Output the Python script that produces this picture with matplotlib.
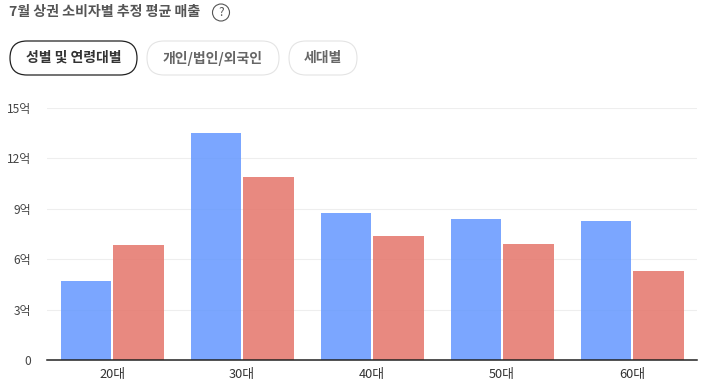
import matplotlib
matplotlib.use("Agg")
import matplotlib.pyplot as plt
from matplotlib.patches import FancyBboxPatch, Circle

plt.rcParams['font.family'] = ['Noto Sans CJK KR', 'DejaVu Sans']

ages = ["20대", "30대", "40대", "50대", "60대"]
blue_vals = [4.7, 13.5, 8.75, 8.4, 8.3]
red_vals = [6.85, 10.9, 7.4, 6.9, 5.3]
y_ticks = [0, 3, 6, 9, 12, 15]
y_labels = ["0", "3억", "6억", "9억", "12억", "15억"]
title = "7월 상권 소비자별 추정 평균 매출"
buttons = ["성별 및 연령대별", "개인/법인/외국인", "세대별"]

W, H = 701, 389
fig = plt.figure(figsize=(W / 100, H / 100), dpi=100)

# overlay in pixel coords for the header stuff
bg = fig.add_axes([0, 0, 1, 1])
bg.set_xlim(0, W)
bg.set_ylim(H, 0)
bg.axis("off")

# chart
ax = fig.add_axes([47 / W, 1 - 360 / H, 650 / W, 252 / H])
x = list(range(len(ages)))
ax.bar([i - 0.2 for i in x], blue_vals, width=0.385, color="#6497ff", alpha=0.85, zorder=2)
ax.bar([i + 0.204 for i in x], red_vals, width=0.385, color="#e5756a", alpha=0.85, zorder=2)
ax.set_xlim(-0.5, 4.5)
ax.set_ylim(0, 15)
ax.set_xticks(x)
ax.set_xticklabels(ages, fontsize=9.2, color="#333333")
ax.set_yticks(y_ticks)
ax.set_yticklabels(y_labels, fontsize=8.6, color="#444444")
ax.tick_params(length=0)
ax.tick_params(axis="x", pad=6)
ax.tick_params(axis="y", pad=11.5)
ax.grid(axis="y", color="#eeeeee", lw=0.8, zorder=0)
for s in ["top", "right", "left"]:
    ax.spines[s].set_visible(False)
ax.spines["bottom"].set_color("#222222")
ax.spines["bottom"].set_linewidth(1.1)
ax.patch.set_alpha(0)

# header
bg.text(9, 12, title, fontsize=10.1, fontweight="bold", color="#555555", va="center")
bg.add_patch(Circle((221, 12.5), 8.5, fc="white", ec="#555555", lw=0.8))
bg.text(221, 12.5, "?", fontsize=8.5, color="#555555", ha="center", va="center")


def pill(x0, x1, label, active):
    y0, y1 = 41, 75
    r = 17
    bg.add_patch(FancyBboxPatch((x0 + r, y0 + r), x1 - x0 - 2 * r, y1 - y0 - 2 * r,
                                boxstyle=f"round,pad={r}", fc="white",
                                ec="#222222" if active else "#e4e4e4", lw=0.9 if active else 0.8))
    bg.text((x0 + x1) / 2, 58, label, fontsize=10, fontweight="bold",
            color="#333333" if active else "#666666", ha="center", va="center")


pill(10, 137, buttons[0], True)
pill(147, 279, buttons[1], False)
pill(289, 357, buttons[2], False)

fig.savefig("out.png", dpi=100)
